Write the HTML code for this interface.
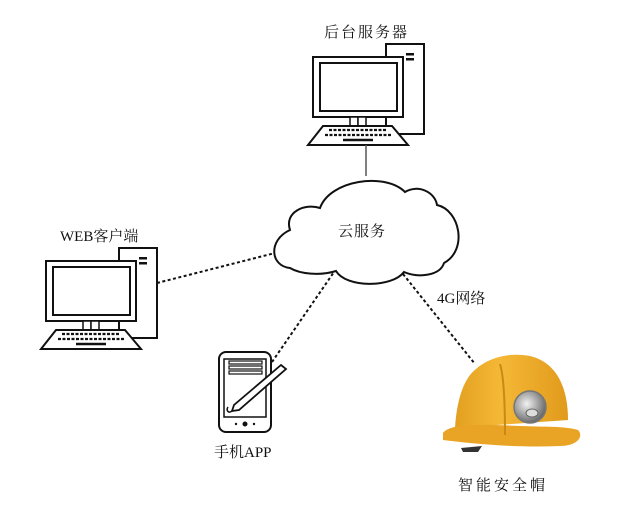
<!DOCTYPE html>
<html><head><meta charset="utf-8"><style>
html,body{margin:0;padding:0;background:#fff;}
svg{display:block}
text{font-family:"Liberation Serif","Noto Serif CJK SC","Noto Sans CJK SC",serif;font-size:15px;fill:#111}
</style></head><body>
<svg width="643" height="528" viewBox="0 0 643 528" xmlns="http://www.w3.org/2000/svg">
<defs>
<g id="pc">
  <rect x="73" y="0" width="38" height="90" fill="#fff" stroke="#111" stroke-width="2"/>
  <rect x="93" y="9" width="8" height="2.5" fill="#111"/>
  <rect x="93" y="14" width="8" height="2.5" fill="#111"/>
  <rect x="0" y="13" width="90" height="60" fill="#fff" stroke="#111" stroke-width="2"/>
  <rect x="7" y="19" width="77" height="48" fill="#fff" stroke="#111" stroke-width="2"/>
  <rect x="37" y="73" width="8" height="9" fill="#fff" stroke="#111" stroke-width="1.5"/>
  <rect x="45" y="73" width="8" height="9" fill="#fff" stroke="#111" stroke-width="1.5"/>
  <path d="M10 82 L79 82 L95 101 L-5 101 Z" fill="#fff" stroke="#111" stroke-width="2"/>
  <g stroke="#111" stroke-width="2.2" stroke-dasharray="3,1.5">
    <line x1="16" y1="86" x2="74" y2="86"/>
    <line x1="12" y1="91" x2="78" y2="91"/>
  </g>
  <line x1="30" y1="96" x2="60" y2="96" stroke="#111" stroke-width="2.5"/>
</g>
<linearGradient id="hg" x1="0" y1="0" x2="1" y2="0">
  <stop offset="0" stop-color="#e3a020"/><stop offset="0.4" stop-color="#f5b836"/><stop offset="1" stop-color="#e19a1c"/>
</linearGradient>
<radialGradient id="lg" cx="0.4" cy="0.4" r="0.7"><stop offset="0" stop-color="#f2f2f2"/><stop offset="1" stop-color="#555"/></radialGradient>
</defs>

<use href="#pc" x="313" y="44"/>
<text x="324" y="37" letter-spacing="2">后台服务器</text>
<line x1="366" y1="145" x2="366" y2="176" stroke="#555" stroke-width="1.5"/>

<use href="#pc" x="46" y="248"/>
<text x="60" y="241">WEB客户端</text>

<g stroke="#111" stroke-width="2" stroke-dasharray="3,2.5" fill="none">
  <line x1="157" y1="283" x2="275" y2="253"/>
  <line x1="272" y1="362" x2="334" y2="272"/>
  <line x1="403" y1="274" x2="475" y2="364"/>
</g>

<path d="M290 268 C270 266 268 240 290 230 C284 212 305 203 320 208 C330 180 385 172 405 192 C418 184 435 192 437 205 C460 210 468 250 444 263 C440 276 418 278 404 272 C392 288 346 288 336 271 C320 276 300 274 290 268 Z" fill="#fff" stroke="#111" stroke-width="2"/>
<text x="338" y="236" letter-spacing="1">云服务</text>
<text x="437" y="303">4G网络</text>

<rect x="219" y="352" width="52" height="80" rx="7" fill="#fff" stroke="#111" stroke-width="2"/>
<rect x="224" y="359" width="42" height="58" fill="#fff" stroke="#111" stroke-width="1.5"/>
<rect x="229" y="361" width="33" height="3" fill="#fff" stroke="#111" stroke-width="1.2"/>
<rect x="229" y="366" width="33" height="3" fill="#fff" stroke="#111" stroke-width="1.2"/>
<rect x="229" y="371" width="33" height="3" fill="#fff" stroke="#111" stroke-width="1.2"/>
<circle cx="245" cy="424" r="2.5" fill="#111"/><circle cx="236" cy="424" r="1.2" fill="#111"/><circle cx="254" cy="424" r="1.2" fill="#111"/>
<path d="M281 365 L286 369 L239 410 L232 411 L234 405 Z" fill="#fff" stroke="#111" stroke-width="1.8"/>
<path d="M232 411 C228 414 226 410 228 407" fill="none" stroke="#111" stroke-width="1.5"/>
<text x="214" y="457">手机APP</text>

<path d="M461 448 L482 446 L478 452 L463 452 Z" fill="#333"/>
<path d="M455 428 C456 410 460 388 470 375 C485 357 510 352 530 356 C555 362 568 385 568 420 Z" fill="url(#hg)"/>
<path d="M443 433 C450 424 475 424 520 426 C545 427 565 426 578 430 C584 436 578 446 560 446 C520 448 475 444 443 440 Z" fill="#eaa425"/>
<path d="M500 364 C505 380 505 420 505 435" stroke="#c98914" stroke-width="2" fill="none"/>
<circle cx="530" cy="407" r="16" fill="url(#lg)" stroke="#777" stroke-width="1.5"/>
<ellipse cx="532" cy="413" rx="6" ry="4" fill="#ddd" stroke="#666"/>
<text x="458" y="490" letter-spacing="3">智能安全帽</text>
</svg>
</body></html>
